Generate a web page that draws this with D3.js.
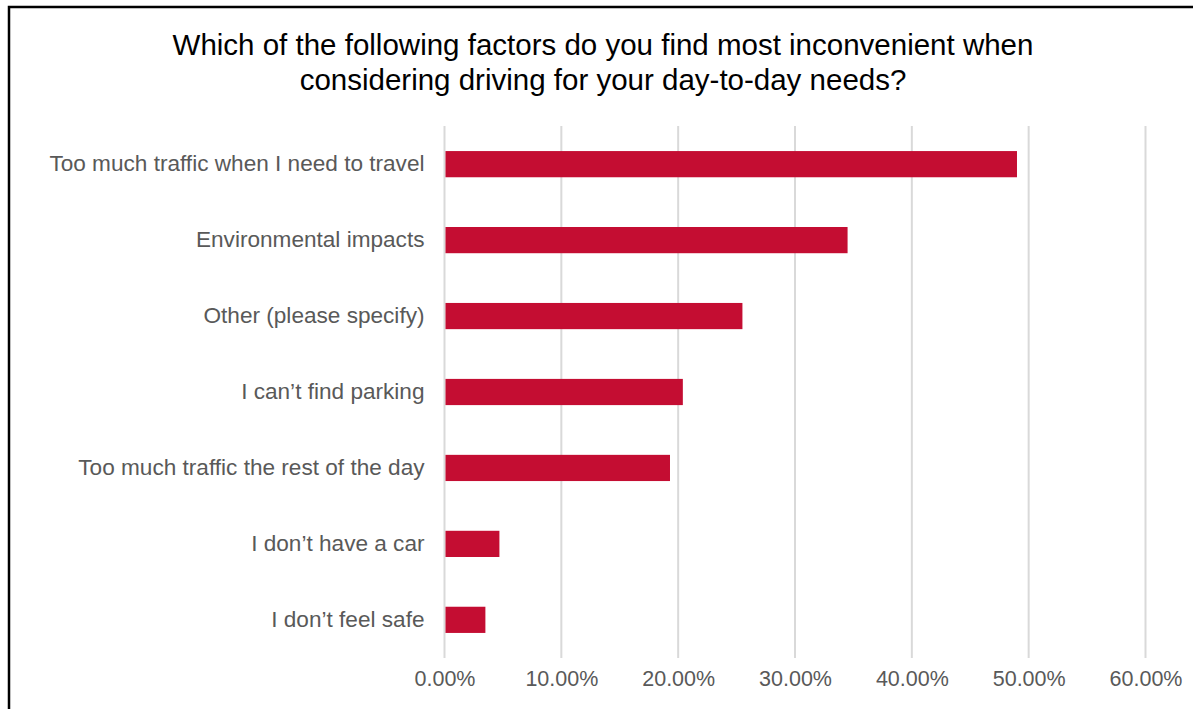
<!DOCTYPE html>
<html>
<head>
<meta charset="utf-8">
<script src="https://cdn.jsdelivr.net/npm/d3@7"></script>
<style>
  html, body { margin: 0; padding: 0; background: #fff; }
  svg { display: block; font-family: "Liberation Sans", Arial, sans-serif; }
</style>
</head>
<body>
<svg id="chart" width="1193" height="709"></svg>
<script>
// Survey responses: share of respondents choosing each factor
const categories = [
  "Too much traffic when I need to travel",
  "Environmental impacts",
  "Other (please specify)",
  "I can\u2019t find parking",
  "Too much traffic the rest of the day",
  "I don\u2019t have a car",
  "I don\u2019t feel safe"
];
const shares = [0.490, 0.345, 0.255, 0.204, 0.193, 0.047, 0.035];
const tickValues = [0, 0.1, 0.2, 0.3, 0.4, 0.5, 0.6];
const titleLines = [
  "Which of the following factors do you find most inconvenient when",
  "considering driving for your day-to-day needs?"
];

const svg = d3.select("#chart");
const W = 1193, H = 709;
const margin = { left: 444.5, right: 47.5, top: 126, bottom: 51 };

// frame
svg.append("path")
  .attr("d", `M9,${H} L9,7 L${W},7`)
  .attr("fill", "none")
  .attr("stroke", "#000")
  .attr("stroke-width", 2.5);

// title
svg.append("g")
  .selectAll("text")
  .data(titleLines)
  .join("text")
  .attr("x", 603)
  .attr("y", (d, i) => 55 + i * 35)
  .attr("text-anchor", "middle")
  .attr("font-size", 29.5)
  .attr("fill", "#000")
  .text(d => d);

const x = d3.scaleLinear()
  .domain([0, 0.6])
  .range([margin.left, W - margin.right]);

const y = d3.scaleBand()
  .domain(categories)
  .range([margin.top, H - margin.bottom])
  .paddingInner(0.655)
  .paddingOuter(0.33);

// vertical gridlines
svg.append("g")
  .selectAll("line")
  .data(tickValues)
  .join("line")
  .attr("x1", d => x(d))
  .attr("x2", d => x(d))
  .attr("y1", margin.top)
  .attr("y2", 658)
  .attr("stroke", "#d9d9d9")
  .attr("stroke-width", 2);

// bars
svg.append("g")
  .selectAll("rect")
  .data(categories)
  .join("rect")
  .attr("x", x(0) + 1)
  .attr("y", d => y(d))
  .attr("width", (d, i) => x(shares[i]) - x(0) - 1)
  .attr("height", y.bandwidth())
  .attr("fill", "#c40d32");

// x axis labels
const xAxis = d3.axisBottom(x)
  .tickValues(tickValues)
  .tickFormat(d3.format(".2%"))
  .tickSize(0)
  .tickPadding(0);
const gx = svg.append("g")
  .attr("transform", `translate(0,${658})`)
  .call(xAxis);
gx.select(".domain").remove();
gx.selectAll("text")
  .attr("dy", "1.3em")
  .attr("font-size", 21.5)
  .attr("font-family", "Liberation Sans, Arial, sans-serif")
  .attr("fill", "#595959");

// y axis labels
const yAxis = d3.axisLeft(y).tickSize(0).tickPadding(20);
const gy = svg.append("g")
  .attr("transform", `translate(${margin.left},0)`)
  .call(yAxis);
gy.select(".domain").remove();
gy.selectAll("text")
  .attr("font-size", 22.6)
  .attr("font-family", "Liberation Sans, Arial, sans-serif")
  .attr("fill", "#595959");
</script>
</body>
</html>
